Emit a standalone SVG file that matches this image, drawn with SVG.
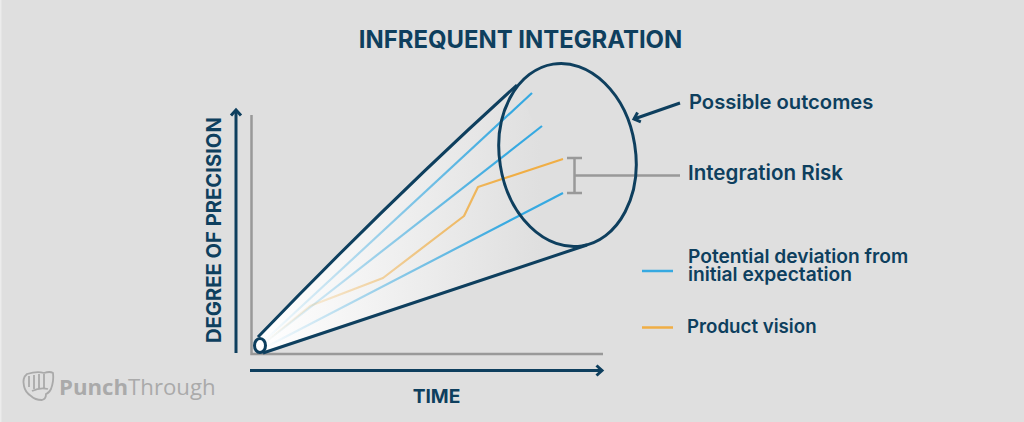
<svg xmlns="http://www.w3.org/2000/svg" width="1024" height="422" viewBox="0 0 1024 422">
<style>
.t{font-family:"Inter","Liberation Sans",sans-serif;font-weight:600;fill:#0e3f5e;font-size:20.200px}
.s{font-size:19.200px}
.p{font-size:18.700px}
.r{font-size:20.600px}
.h{font-family:"Inter","Liberation Sans",sans-serif;font-weight:700;fill:#0e3f5e}
.navy{fill:none;stroke:#0e3f5e;stroke-width:3}
.gray{fill:none;stroke:#999;stroke-width:2.500}
.fine{fill:none;stroke-width:2.200;stroke-linejoin:round}
</style>
<defs>
<linearGradient id="cone" gradientUnits="userSpaceOnUse" x1="262" y1="0" x2="540" y2="0"><stop offset="0" stop-color="#fff"/><stop offset="1" stop-color="#dfdfdf"/></linearGradient>
<linearGradient id="blue" gradientUnits="userSpaceOnUse" x1="262" y1="0" x2="510" y2="0"><stop offset="0" stop-color="#36a9e1" stop-opacity="0"/><stop offset="1" stop-color="#36a9e1"/></linearGradient>
<linearGradient id="orange" gradientUnits="userSpaceOnUse" x1="262" y1="0" x2="510" y2="0"><stop offset="0" stop-color="#f0ae45" stop-opacity="0"/><stop offset="1" stop-color="#f0ae45"/></linearGradient>
<marker id="ah" markerUnits="userSpaceOnUse" markerWidth="14" markerHeight="16" refX="9" refY="8" orient="auto"><path d="M3.500 3L9 8L3.500 13" fill="none" stroke="#0e3f5e" stroke-width="3"/></marker>
</defs>
<rect width="1024" height="422" fill="#dfdfdf"/>
<rect width="1.500" height="422" fill="#ececec"/>
<text class="h" x="520.500" y="48" font-size="23.900" text-anchor="middle">INFREQUENT INTEGRATION</text>
<g id="axes">
<path class="gray" d="M251.500 115V354H603"/>
</g>
<g id="cone-shape">
<path d="M258 337Q390 200 517 85L587 245L263 353Z" fill="url(#cone)"/>
</g>
<g id="connectors">
<path class="fine" stroke="url(#blue)" d="M262 343L532 93"/>
<path class="fine" stroke="url(#blue)" d="M262 345L542 126"/>
<path class="fine" stroke="url(#blue)" d="M264 348L563 193"/>
<path class="fine" stroke="url(#orange)" d="M268 340L310 306L383 278L464 216L478 187L563 159"/>
<path class="gray" d="M567 158H582M574.500 158V193M567 193H582M574.500 175.500H680"/>
<path class="navy" d="M236 353V110" marker-end="url(#ah)"/>
<path class="navy" d="M250 370.500H602" marker-end="url(#ah)"/>
<path class="navy" d="M680 103L634 119" marker-end="url(#ah)"/>
</g>
<g id="outcomes-ellipse">
<path class="navy" d="M258 337Q390 200 517 85M263 353L587 245"/>
<ellipse class="navy" cx="567.500" cy="155" rx="68" ry="92" transform="rotate(-9 567.500 155)"/>
<ellipse cx="260" cy="345.500" rx="5.500" ry="7" fill="#fff" stroke="#0e3f5e" stroke-width="3"/>
</g>
<g id="label-outcomes"><text class="t" x="689" y="109">Possible outcomes</text></g>
<g id="label-risk"><text class="t r" x="688" y="180">Integration Risk</text></g>
<g id="legend-blue"><path d="M642 271H673" stroke="#36a9e1" stroke-width="2.500"/><text class="t s"><tspan x="688" y="262.500">Potential deviation from</tspan><tspan x="688" y="281">initial expectation</tspan></text></g>
<g id="legend-orange"><path d="M642 327.500H673" stroke="#f0ae45" stroke-width="2.500"/><text class="t p" x="687" y="333">Product vision</text></g>
<g id="label-y"><text class="h" transform="translate(221 343) rotate(-90)" font-size="20.200">DEGREE OF PRECISION</text></g>
<g id="label-x"><text class="h" x="436.500" y="403" font-size="19.200" text-anchor="middle">TIME</text></g>
<g id="logo">
<path d="M27 374Q37 371 44 373Q50 371 53 373Q54 381 51 389Q49 393 46 394Q46 399 42 400Q35 400 31 396Q25 392 24 386Q22 378 27 374Z" fill="none" stroke="#aaa" stroke-width="1.800"/>
<path d="M29 376V387M34 375V389M39 374V389M44 374V388M32 391Q40 387 48 389" fill="none" stroke="#aaa" stroke-width="1.800"/>
<text x="59" y="395" font-family="Open Sans,Liberation Sans,sans-serif" font-size="22.200" fill="#aaa"><tspan font-weight="700">Punch</tspan><tspan>Through</tspan></text>
</g>
</svg>
